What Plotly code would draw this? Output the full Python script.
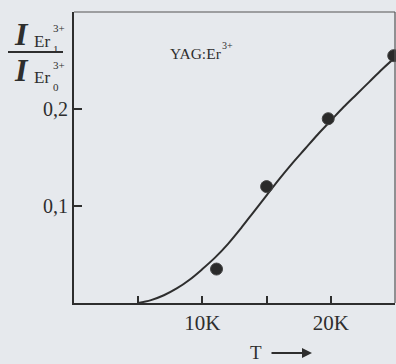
import plotly.graph_objects as go

# Measured ratio of line intensities vs. temperature
temp_points = [11.1, 15.0, 19.8, 24.9]
ratio_points = [0.035, 0.120, 0.190, 0.255]

# Fitted curve
temp_curve = [5, 6, 7, 8, 9, 10, 11, 12, 13, 14, 15, 16, 17, 18, 19, 20, 21, 22, 23, 24, 25]
ratio_curve = [0.000, 0.003, 0.008, 0.015, 0.024, 0.035, 0.047, 0.061, 0.077, 0.094,
               0.111, 0.128, 0.144, 0.159, 0.174, 0.188, 0.202, 0.215, 0.228, 0.241, 0.253]

x_tickvals = [5, 10, 15, 20]
x_ticktext = ["", "10K", "", "20K"]
y_tickvals = [0.1, 0.2]
y_ticktext = ["0,1", "0,2"]

BG = "#e6e9ed"
INK = "#2e2e2e"
SERIF = "Liberation Serif, Times New Roman, serif"

W, H = 396, 364
L, R, T, B = 74, 1, 12, 61
PW, PH = W - L - R, H - T - B


def px(x):
    return (x - L) / PW


def py(y):
    return (H - B - y) / PH


fig = go.Figure()
fig.add_trace(go.Scatter(x=temp_curve, y=ratio_curve, mode="lines",
                         line=dict(color=INK, width=2, shape="spline", smoothing=1.0),
                         hoverinfo="skip", showlegend=False))
fig.add_trace(go.Scatter(x=temp_points, y=ratio_points, mode="markers",
                         marker=dict(size=12, color="#2a2a2a",
                                     line=dict(color="#444", width=1)),
                         showlegend=False, cliponaxis=False))

fig.update_xaxes(range=[0, 25], showgrid=False, zeroline=False,
                 showline=True, linecolor=INK, linewidth=1.8,
                 ticks="inside", ticklen=7, tickwidth=1.5, tickcolor=INK,
                 tickvals=x_tickvals, ticktext=x_ticktext,
                 tickfont=dict(family=SERIF, size=21, color=INK))
fig.update_yaxes(range=[0, 0.30], showgrid=False, zeroline=False,
                 showline=True, linecolor=INK, linewidth=1.8,
                 ticks="inside", ticklen=8, tickwidth=2, tickcolor=INK,
                 tickvals=y_tickvals, ticktext=y_ticktext,
                 tickfont=dict(family=SERIF, size=20, color=INK))

# top and right frame lines
fig.add_shape(type="line", xref="paper", yref="paper", x0=0, x1=1, y0=1, y1=1,
              line=dict(color="#555", width=1.2))
fig.add_shape(type="line", xref="paper", yref="paper", x0=1, x1=1, y0=0, y1=1,
              line=dict(color="#555", width=1.2))

# y-axis label: intensity ratio as a fraction
fig.add_shape(type="line", xref="paper", yref="paper",
              x0=px(8), x1=px(63), y0=py(52), y1=py(52),
              line=dict(color=INK, width=2))


def label(text, x, y, size, xanchor="left"):
    fig.add_annotation(text=text, xref="paper", yref="paper", x=px(x), y=py(y),
                       xanchor=xanchor, yanchor="middle", showarrow=False,
                       font=dict(family=SERIF, size=size, color=INK))


label("<b><i>I</i></b>", 12, 34, 32)
label("Er", 32, 42, 17)
label("1", 51, 49, 11)
label("3+", 51, 28, 11)
label("<b><i>I</i></b>", 12, 70, 32)
label("Er", 32, 78, 17)
label("0", 51, 87, 11)
label("3+", 51, 65, 11)

label("YAG:Er", 168, 53, 15.5)
label("3+", 220, 45, 10)

# temperature axis label with arrow
label("T", 256, 352, 19, xanchor="center")
fig.add_annotation(xref="paper", yref="paper", x=px(312), y=py(353),
                   ax=-42, ay=0, text="", showarrow=True,
                   arrowhead=2, arrowsize=1, arrowwidth=2, arrowcolor=INK)

fig.update_layout(width=W, height=H, margin=dict(l=L, r=R, t=T, b=B),
                  paper_bgcolor=BG, plot_bgcolor=BG)

fig.write_html("out.html")
